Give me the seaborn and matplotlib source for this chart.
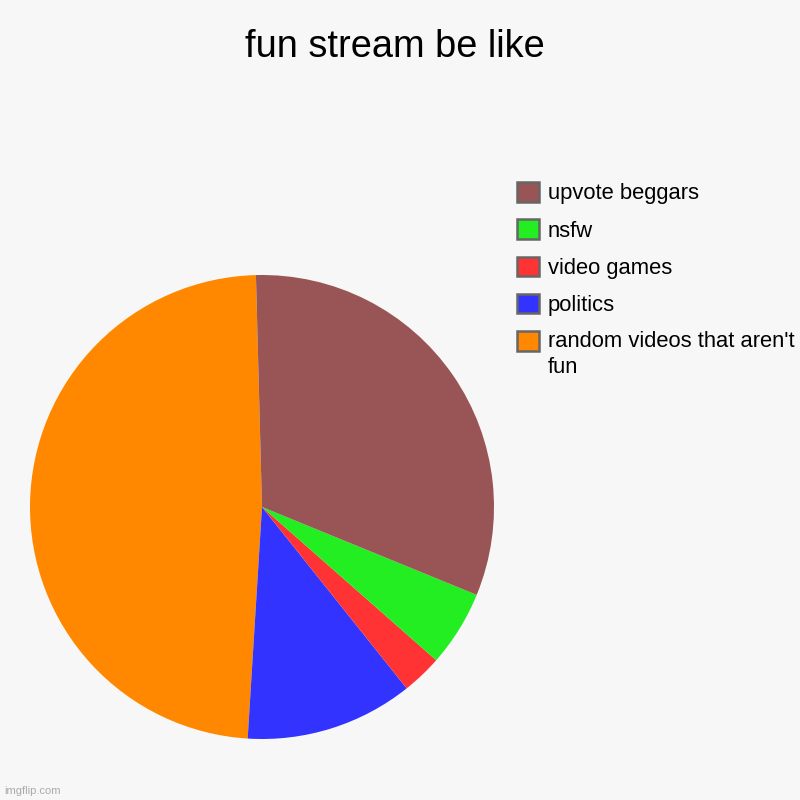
import matplotlib
matplotlib.use("Agg")
import matplotlib.pyplot as plt
import seaborn as sns

categories = ["random videos that aren't\nfun", "politics", "video games", "nsfw", "upvote beggars"]
shares = [48.6, 11.7, 2.8, 5.3, 31.6]
colors = ["#ff8800", "#3333ff", "#ff3333", "#22ee22", "#995555"]
title = "fun stream be like"
watermark = "imgflip.com"

sns.set_style("white", {"figure.facecolor": "#f7f7f7", "axes.facecolor": "#f7f7f7",
                        "text.color": "#000000"})
plt.rcParams['font.family'] = ['Liberation Sans', 'DejaVu Sans']
palette = sns.color_palette(colors)

fig = plt.figure(figsize=(8, 8), dpi=100)
ax = fig.add_axes([262/800 - 0.29, 1 - 507/800 - 0.29, 0.58, 0.58])
wedges, _ = ax.pie(shares, colors=palette, startangle=91.5, counterclock=True,
                   radius=1, wedgeprops=dict(linewidth=0))
ax.set_xlim(-1, 1)
ax.set_ylim(-1, 1)
ax.set_aspect("equal")
ax.axis("off")

leg = fig.legend(wedges[::-1], categories[::-1], loc="upper left",
                 bbox_to_anchor=(517/800, 1 - 182/800), frameon=False,
                 fontsize=15.8, handlelength=1.0, handleheight=1.0,
                 handletextpad=0.4, labelspacing=0.68, borderpad=0, borderaxespad=0,
                 labelcolor="#000000")
for h in leg.legend_handles:
    h.set_edgecolor("#666666")
    h.set_linewidth(1.8)
leg.get_texts()[-1].set_linespacing(1.3)
# keep the swatch level with the first line of the wrapped label
for col in leg._legend_handle_box.get_children():
    items = col.get_children()
    items[-1].align = "top"

fig.text(395/800, 1 - 47/800, title, ha="center", va="center", fontsize=27.4, color="#000000")
fig.text(4/800, 1 - 791/800, watermark, ha="left", va="center", fontsize=8, color="#aaaaaa")

fig.savefig("out.png", dpi=100, facecolor=fig.get_facecolor())
